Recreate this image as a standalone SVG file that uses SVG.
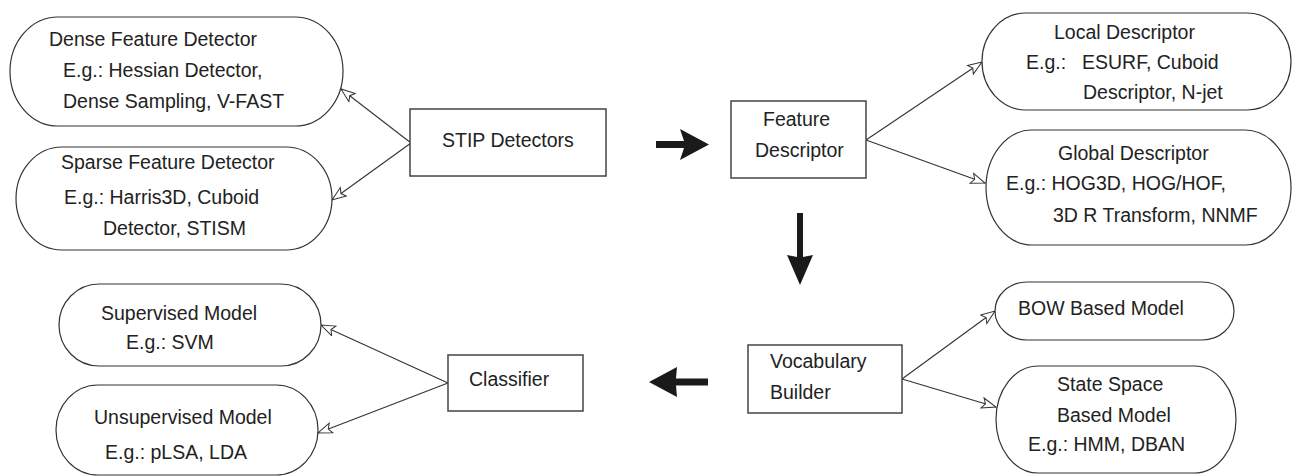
<svg xmlns="http://www.w3.org/2000/svg" width="1293" height="476" viewBox="0 0 1293 476">
<style>
text{font-family:"Liberation Sans",Arial,Helvetica,sans-serif;font-size:19.5px;fill:#222}
.st{fill:#fff;stroke:#333;stroke-width:1.2}
.bx{fill:#fff;stroke:#444;stroke-width:1.5}
.ln{fill:none;stroke:#333;stroke-width:1.1;marker-end:url(#oa)}
.blk{fill:#1a1a1a;stroke:none}
</style>
<defs>
<marker id="oa" viewBox="0 0 16 12" refX="15" refY="6" markerWidth="16" markerHeight="12" markerUnits="userSpaceOnUse" orient="auto">
<path d="M1,0.8 L15,6 L1,11.2 L4,6 z" fill="#fff" stroke="#333" stroke-width="1"/>
</marker>
</defs>
<rect width="1293" height="476" fill="#fff"/>
<g id="connectors">
<line class="ln" x1="411" y1="143" x2="341" y2="89"/>
<line class="ln" x1="411" y1="143" x2="332" y2="200"/>
<line class="ln" x1="866" y1="140" x2="982" y2="62"/>
<line class="ln" x1="866" y1="140" x2="985" y2="183"/>
<line class="ln" x1="902" y1="379" x2="995" y2="311"/>
<line class="ln" x1="902" y1="379" x2="996" y2="407"/>
<line class="ln" x1="448" y1="383" x2="321" y2="325"/>
<line class="ln" x1="448" y1="383" x2="318" y2="433"/>
<polygon class="blk" points="656,141 684,141 680,129 709,144.5 680,160 684,148 656,148"/>
<polygon class="blk" points="797,213 803,213 803,257 813,255 800,285 787,255 797,257"/>
<polygon class="blk" points="708,378.5 676,378.5 677,367 649,382 677,397 676,385.5 708,385.5"/>
</g>
<g id="dense">
<rect class="st" x="10" y="17" width="333" height="109" rx="48" ry="54.5"/>
<text x="49" y="46">Dense Feature Detector</text>
<text x="63" y="77">E.g.: Hessian Detector,</text>
<text x="63" y="108">Dense Sampling, V-FAST</text>
</g>
<g id="sparse">
<rect class="st" x="16" y="147" width="316" height="103" rx="46" ry="51.5"/>
<text x="61" y="169">Sparse Feature Detector</text>
<text x="64" y="204">E.g.: Harris3D, Cuboid</text>
<text x="103" y="235">Detector, STISM</text>
</g>
<g id="stip">
<rect class="bx" x="410" y="109" width="196" height="67"/>
<text x="442" y="147">STIP Detectors</text>
</g>
<g id="featdesc">
<rect class="bx" x="731" y="101" width="135" height="77"/>
<text x="763" y="126">Feature</text>
<text x="755" y="157">Descriptor</text>
</g>
<g id="local">
<rect class="st" x="982" y="13" width="309" height="97" rx="44" ry="48.5"/>
<text x="1054" y="39">Local Descriptor</text>
<text x="1026" y="69">E.g.:</text>
<text x="1082" y="69">ESURF, Cuboid</text>
<text x="1083" y="99">Descriptor, N-jet</text>
</g>
<g id="global">
<rect class="st" x="986" y="130" width="305" height="115" rx="46" ry="57.5"/>
<text x="1058" y="160">Global Descriptor</text>
<text x="1006" y="190">E.g.: HOG3D, HOG/HOF,</text>
<text x="1053" y="222">3D R Transform, NNMF</text>
</g>
<g id="vocab">
<rect class="bx" x="748" y="345" width="154" height="68"/>
<text x="770" y="368">Vocabulary</text>
<text x="770" y="399">Builder</text>
</g>
<g id="bow">
<rect class="st" x="995" y="282" width="239" height="58" rx="32" ry="29"/>
<text x="1018" y="315">BOW Based Model</text>
</g>
<g id="statespace">
<rect class="st" x="996" y="366" width="240" height="107" rx="42" ry="53.5"/>
<text x="1057" y="391">State Space</text>
<text x="1057" y="422">Based Model</text>
<text x="1028" y="451">E.g.: HMM, DBAN</text>
</g>
<g id="classifier">
<rect class="bx" x="448" y="355" width="135" height="56"/>
<text x="469" y="386">Classifier</text>
</g>
<g id="supervised">
<rect class="st" x="59" y="284" width="262" height="82" rx="40" ry="41"/>
<text x="101" y="320">Supervised Model</text>
<text x="126" y="349">E.g.: SVM</text>
</g>
<g id="unsupervised">
<rect class="st" x="56" y="385" width="262" height="90" rx="42" ry="45"/>
<text x="94" y="424">Unsupervised Model</text>
<text x="105" y="459">E.g.: pLSA, LDA</text>
</g>
</svg>
